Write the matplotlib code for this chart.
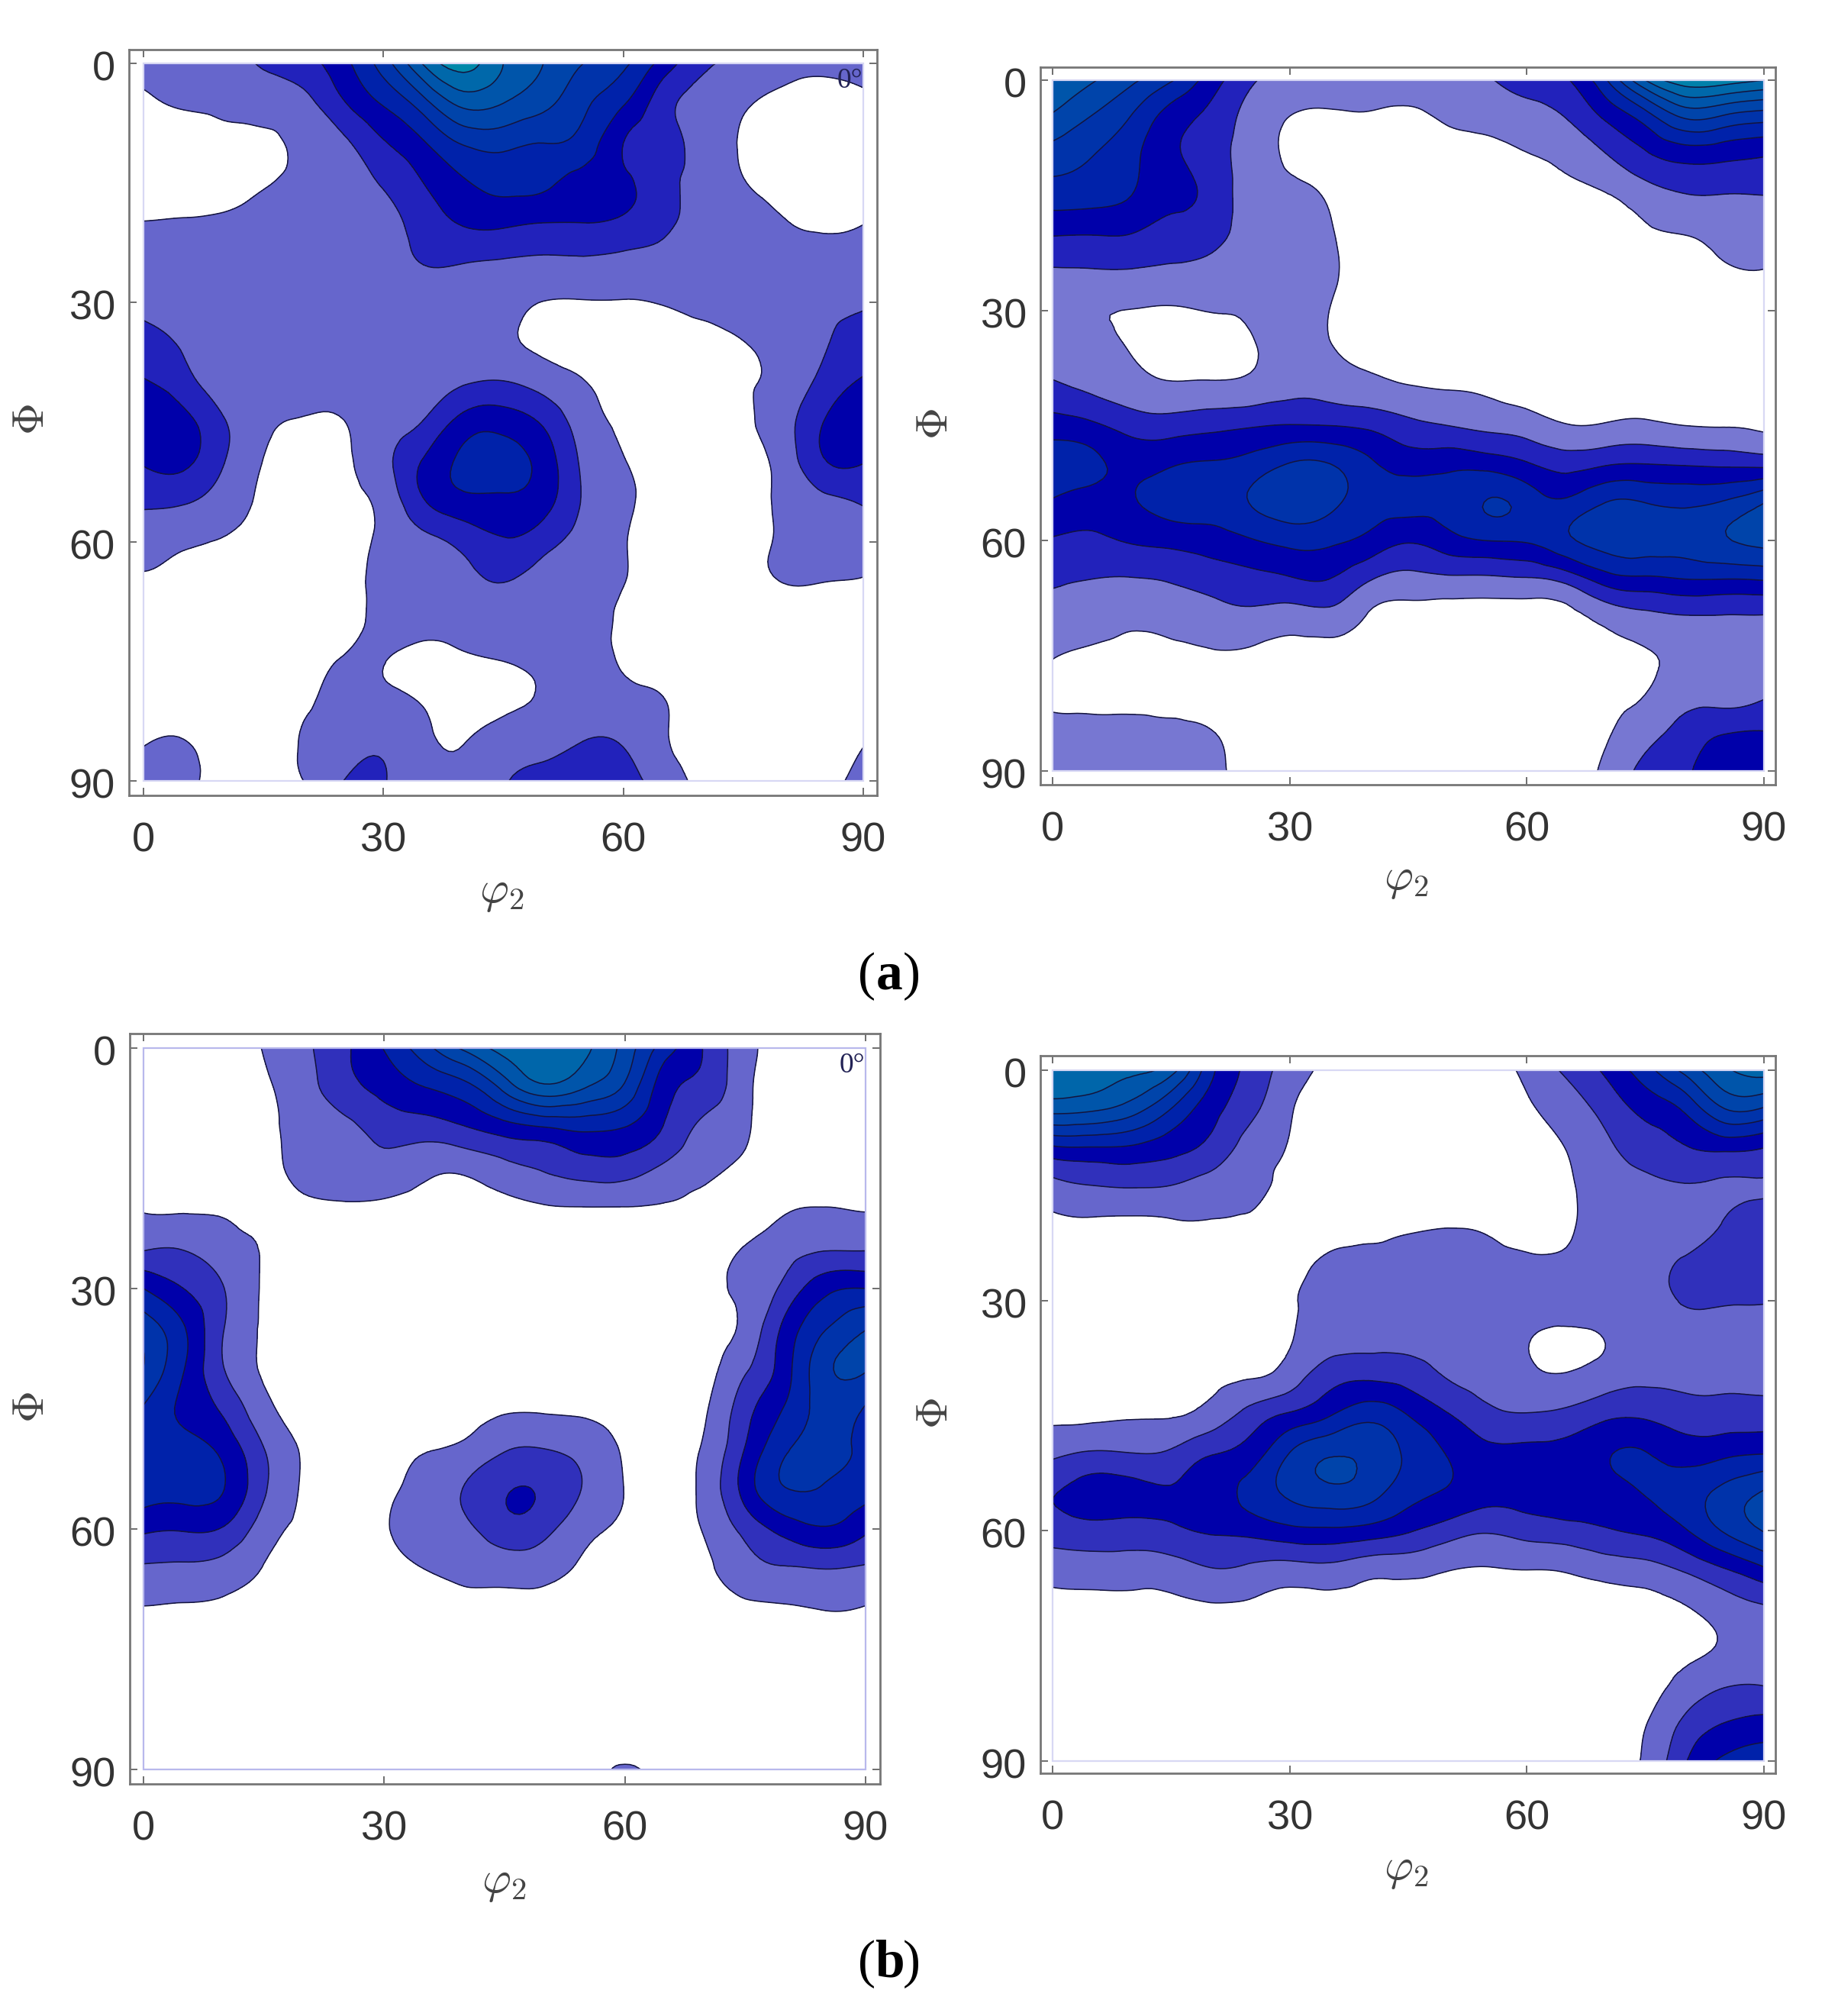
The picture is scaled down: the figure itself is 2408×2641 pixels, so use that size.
import numpy as np
import matplotlib
matplotlib.use("Agg")
import matplotlib.pyplot as plt
import matplotlib.tri as mtri
from matplotlib.patches import Rectangle
from matplotlib.transforms import ScaledTranslation

W, H = 2408, 2641
phi2 = list(range(0, 95, 5))
Phi = list(range(0, 95, 5))
tick_values = [0, 30, 60, 90]
contour_levels = [1, 2, 3, 4, 5, 6, 7, 8, 9, 10]

# intensity, rows = Phi 0..90 step 5, columns = phi2 0..90 step 5
a_left_rows = [
 [1.4,1.5,1.6,2.1,2.6,3.7,5.5,8.1,9.4,8.0,7.0,6.0,5.2,3.6,2.2,1.7,1.3,1.2,1.3],
 [.8,1.1,1.2,1.4,1.7,2.9,4.1,5.6,7.3,7.0,6.3,5.2,4.1,2.4,1.6,1.1,.8,.7,.85],
 [.5,.6,.8,.85,1.2,1.8,2.9,3.9,5.1,5.3,5.0,4.6,3.0,2.3,1.6,.9,.5,.5,.6],
 [.6,.7,.8,.95,1.2,1.5,2.1,3.0,3.9,4.3,4.2,3.6,3.2,2.3,1.7,1.05,.6,.5,.6],
 [1.02,1.05,1.1,1.2,1.3,1.4,1.7,2.4,3.1,3.2,3.0,3.0,2.8,2.2,1.7,1.4,1.05,.9,.98],
 [1.4,1.4,1.4,1.4,1.4,1.5,1.6,2.03,2.02,1.9,1.8,1.8,1.7,1.6,1.4,1.3,1.3,1.3,1.4],
 [1.8,1.6,1.4,1.4,1.4,1.4,1.4,1.4,1.4,1.3,.98,.95,.95,1.05,1.3,1.4,1.6,1.8,1.9],
 [2.3,1.9,1.4,1.2,1.2,1.3,1.3,1.3,1.3,1.15,.8,.55,.5,.5,.6,.98,1.3,1.9,2.4],
 [3.1,2.4,1.4,1.2,1.2,1.3,1.4,1.55,1.9,2.05,1.6,1.05,.6,.5,.55,.9,1.3,2.3,3.15],
 [3.6,3.3,2.1,1.15,.95,.98,1.5,2.05,3.4,3.6,2.85,1.5,.85,.5,.5,.85,1.6,3.0,3.9],
 [3.1,3.2,2.05,.98,.7,.85,1.7,3.1,4.2,4.35,3.6,1.8,1.03,.6,.5,.7,1.4,2.9,3.05],
 [2.2,2.1,1.5,.85,.6,.75,1.3,2.9,3.7,3.8,3.4,1.9,1.15,.65,.5,.6,1.2,1.7,2.1],
 [1.3,1.1,.95,.7,.5,.7,1.15,1.7,2.3,2.9,2.4,1.6,1.05,.6,.5,.7,1.1,1.2,1.3],
 [.9,.8,.7,.5,.4,.7,1.2,1.4,1.7,2.02,1.5,1.2,1.02,.6,.5,.7,1.02,1.01,.95],
 [.4,.5,.5,.5,.5,.7,1.2,1.25,1.3,1.3,1.25,1.15,.9,.5,.5,.5,.5,.5,.5],
 [.5,.5,.5,.6,.75,1.05,1.02,.8,.9,1.0,1.1,1.1,.95,.6,.5,.5,.5,.5,.5],
 [.6,.6,.5,.6,.9,1.2,1.2,.95,.7,.85,1.08,1.3,1.25,1.03,.6,.5,.5,.5,.6],
 [.95,1.02,.7,.7,1.05,1.5,1.8,1.2,.97,1.4,1.6,2.0,1.9,1.1,.7,.5,.5,.6,.95],
 [1.2,1.15,.8,.8,1.0,2.0,2.05,1.4,1.2,1.9,2.4,2.6,2.4,1.5,.8,.6,.6,.8,1.2],
]

# the other three are listed by column: columns = phi2 0..90 step 5, entries = Phi 0..90 step 5
a_right_cols = [
 [8.0,6.8,5.5,4.5,3.1,1.9,1.6,1.5,2.2,3.5,4.4,3.9,2.9,2.15,1.6,1.05,.8,1.3,1.5],
 [7.1,5.9,5.0,4.4,3.05,1.9,1.1,1.3,1.8,3.2,4.2,3.6,2.8,2.0,1.5,.8,.7,1.3,1.5],
 [6.2,4.9,4.25,4.0,3.0,1.9,.98,.95,1.4,2.6,3.7,3.9,3.1,1.95,1.2,.7,.7,1.3,1.5],
 [5.1,3.5,3.2,3.3,2.6,1.8,.9,.6,1.15,2.5,3.9,4.4,3.3,2.1,1.3,.8,.7,1.2,1.3],
 [3.5,2.7,2.5,2.7,2.4,1.6,1.03,.6,1.2,2.7,4.1,4.5,3.5,2.45,1.5,.9,.6,1.05,1.2],
 [2.2,1.6,1.5,1.5,1.5,1.3,1.1,.9,1.3,2.9,4.4,5.03,3.9,2.7,1.7,.85,.6,.6,.7],
 [1.5,.98,.9,1.2,1.4,1.5,1.45,1.3,1.7,3.05,5.05,5.6,4.3,2.9,1.5,.7,.6,.6,.6],
 [1.5,.85,.6,.9,1.1,1.2,1.0,1.05,1.6,3.0,5.02,5.3,4.2,3.0,1.6,.7,.6,.6,.6],
 [1.5,.9,.6,.5,.5,.5,.6,.8,1.3,2.8,4.2,4.5,3.7,2.1,.9,.7,.6,.6,.6],
 [1.5,.8,.5,.4,.4,.4,.5,.6,1.05,2.3,3.6,4.3,3.1,1.7,.6,.5,.5,.5,.5],
 [1.5,1.1,.6,.4,.4,.4,.4,.5,.95,2.0,3.7,4.4,3.6,1.8,.6,.5,.5,.5,.5],
 [1.9,1.3,.7,.5,.4,.4,.4,.5,.85,1.75,3.6,5.04,4.0,1.8,.6,.5,.5,.5,.5],
 [2.4,1.6,.95,.7,.4,.4,.4,.4,.6,1.5,3.1,4.6,4.1,1.9,.6,.5,.5,.5,.5],
 [2.9,2.0,1.2,.8,.5,.4,.4,.4,.5,1.05,2.6,4.2,4.8,2.35,.7,.5,.5,.5,.6],
 [4.9,3.1,1.9,.95,.6,.4,.4,.4,.4,1.1,2.9,5.0,5.4,3.5,1.3,.7,.8,.9,1.2],
 [8.0,4.4,2.8,1.5,.9,.6,.4,.4,.5,1.2,3.0,4.98,5.5,3.8,1.7,.9,1.0,1.6,2.3],
 [9.6,6.0,3.3,1.95,1.02,.7,.5,.4,.5,1.0,2.9,4.8,5.4,4.0,1.9,1.2,1.6,2.4,2.9],
 [9.5,5.7,3.2,1.97,1.25,.9,.5,.5,.5,.95,2.8,5.1,5.9,4.0,1.9,1.2,1.5,2.95,3.4],
 [9.0,5.3,3.0,2.0,1.4,.97,.6,.5,.6,.85,2.7,5.95,6.3,4.1,1.9,1.4,1.85,3.05,3.5],
]

b_left_cols = [
 [.4,.4,.4,.6,.95,1.9,4.0,5.55,5.98,4.9,4.6,4.5,3.2,1.85,.95,.6,.4,.4,.4],
 [.4,.4,.5,.6,.9,1.95,3.0,4.1,4.05,3.8,4.4,4.4,3.1,1.8,.9,.6,.4,.4,.4],
 [.4,.4,.4,.5,.9,1.4,2.02,2.02,2.02,2.8,3.7,4.02,2.9,1.6,.8,.5,.4,.4,.4],
 [1.05,.85,.7,.7,.8,.95,.9,.9,.9,1.3,2.02,2.15,1.5,.95,.6,.5,.4,.4,.4],
 [1.8,1.6,1.4,1.25,.85,.6,.6,.6,.6,.7,.9,.9,.8,.6,.5,.4,.4,.4,.4],
 [2.8,2.6,1.7,1.4,.9,.5,.5,.5,.5,.5,.5,.5,.5,.5,.4,.4,.4,.4,.4],
 [4.05,3.3,2.4,1.6,.85,.5,.4,.4,.4,.5,.6,.8,.9,.7,.5,.4,.4,.4,.4],
 [5.6,3.95,2.5,1.25,.7,.4,.4,.4,.5,.6,.95,1.3,1.4,1.0,.6,.4,.4,.4,.4],
 [7.2,4.6,2.9,1.2,.6,.4,.4,.4,.5,.7,1.2,2.05,1.75,1.2,.7,.4,.4,.4,.4],
 [8.4,6.3,3.5,1.7,.7,.4,.4,.4,.5,.9,1.9,2.9,2.6,1.4,.7,.4,.4,.4,.4],
 [8.8,7.7,3.9,2.1,.9,.4,.4,.4,.5,.9,2.0,2.85,2.3,1.3,.7,.4,.4,.4,.4],
 [8.2,7.0,4.2,2.5,.95,.4,.4,.4,.5,.85,1.6,1.9,1.3,.85,.6,.4,.4,.4,.4],
 [6.6,5.8,3.95,2.5,.95,.4,.4,.4,.5,.7,.9,.98,.85,.6,.5,.4,.4,.4,1.15],
 [4.5,3.4,2.9,1.8,.9,.4,.4,.4,.5,.5,.6,.7,.6,.5,.5,.4,.4,.4,.5],
 [2.9,2.6,1.7,1.2,.7,.6,.8,.7,.7,.9,1.15,1.3,1.1,.8,.6,.4,.4,.4,.4],
 [1.35,1.25,1.1,.8,.5,1.05,1.2,1.25,1.85,2.6,3.05,3.4,2.3,1.6,.8,.5,.4,.4,.4],
 [.6,.5,.4,.5,.9,1.6,2.3,3.3,3.6,4.1,4.85,4.97,3.4,1.9,.9,.5,.4,.4,.4],
 [.4,.4,.4,.5,1.02,1.9,3.7,4.95,5.75,5.35,5.3,4.9,3.9,2.0,1.02,.6,.4,.4,.4],
 [.4,.4,.4,.5,.95,1.9,4.0,5.95,6.1,4.9,4.7,4.4,3.2,1.85,.95,.6,.4,.4,.4],
]

b_right_cols = [
 [8.6,7.4,3.9,1.7,.8,.5,.4,.4,.5,.85,1.8,2.95,2.5,1.4,.7,.5,.4,.4,.4],
 [8.6,7.2,4.0,2.0,.85,.5,.4,.4,.6,.85,2.15,3.4,2.65,1.5,.7,.5,.4,.4,.4],
 [8.2,6.5,3.9,2.1,.8,.5,.4,.4,.7,.95,2.05,3.3,2.6,1.5,.7,.5,.4,.4,.4],
 [7.4,5.0,3.4,2.0,.9,.6,.4,.5,.7,.95,2.2,3.1,2.8,1.55,.8,.5,.4,.4,.4],
 [4.3,3.4,2.7,1.6,.95,.6,.5,.6,.8,1.4,2.95,3.5,3.1,1.95,.9,.5,.4,.4,.4],
 [2.7,2.3,1.6,1.3,.85,.6,.6,.7,.95,2.4,3.5,4.3,3.3,1.8,.85,.5,.4,.4,.4],
 [1.5,1.1,.95,.7,.6,.7,.9,.95,1.5,3.2,5.05,5.2,3.7,1.6,.7,.5,.4,.4,.4],
 [.8,.6,.5,.5,.6,1.15,1.3,1.5,2.6,3.95,5.9,5.7,3.8,1.7,.7,.5,.4,.4,.4],
 [.5,.5,.5,.6,.8,1.2,1.4,1.7,2.85,4.7,5.75,5.4,3.6,1.35,.7,.5,.4,.4,.4],
 [.4,.4,.4,.5,.9,1.2,1.4,1.7,2.6,4.0,4.8,4.4,3.1,1.3,.6,.4,.4,.4,.4],
 [.4,.4,.4,.5,.95,1.25,1.4,1.6,1.95,3.1,3.95,3.9,2.5,1.05,.55,.4,.4,.4,.4],
 [.4,.4,.4,.5,.9,1.15,1.3,1.4,1.6,2.3,3.3,3.4,2.1,.95,.55,.4,.4,.4,.4],
 [1.3,.85,.6,.5,.7,1.1,1.2,1.03,1.2,2.1,3.3,3.45,2.4,1.02,.6,.5,.4,.4,.4],
 [2.15,1.5,1.03,.85,.85,1.15,1.3,.85,1.1,2.3,3.4,3.6,2.6,1.1,.6,.5,.4,.4,.4],
 [3.2,2.35,1.8,1.5,1.5,1.5,1.55,1.03,1.5,2.8,3.9,3.65,2.9,1.4,.65,.5,.5,.5,.6],
 [4.6,3.3,2.5,1.8,1.6,1.6,1.7,1.7,1.85,2.85,4.05,4.05,3.2,1.6,.8,.85,.7,.95,1.15],
 [6.3,4.2,2.95,1.95,1.5,2.1,2.05,1.8,1.8,2.5,3.6,4.5,3.9,2.15,.95,.8,1.3,2.2,2.9],
 [7.8,6.0,3.3,1.9,2.05,2.2,2.05,1.7,1.8,2.45,3.8,5.3,5.1,2.95,1.5,1.1,1.9,3.0,4.2],
 [8.4,5.9,3.05,1.95,2.3,2.5,2.05,1.7,1.7,2.5,4.0,6.1,6.05,3.85,1.9,1.4,1.95,3.3,4.6],
]

fills_a_left = ['#6666cc', '#2222bb', '#0000aa', '#0022aa', '#0033aa', '#0044aa', '#0055aa', '#0068aa', '#0088aa']
fills_a_right = ['#7777d2', '#2222bb', '#0000aa', '#0022aa', '#0033aa', '#0044aa', '#0055aa', '#0068aa', '#0080aa']
fills_b = ['#6666cc', '#3030bb', '#0000aa', '#0022aa', '#0033aa', '#0044aa', '#0055aa', '#0066aa', '#0080aa']

plt.rcParams['font.family'] = ['Liberation Sans', 'DejaVu Sans']
fig = plt.figure(figsize=(W / 100, H / 100), dpi=100, facecolor='white')


def panel(grid, fills, frame, plot, label_y, xlab, ylab, mark=False, edge='#d8d8f4'):
    fx0, fx1, fy0, fy1 = frame
    x0, x1, y0, y1 = plot
    ax = fig.add_axes([fx0 / W, 1 - fy1 / H, (fx1 - fx0) / W, (fy1 - fy0) / H])
    sx = 90 / (x1 - x0)
    sy = 90 / (y1 - y0)
    ax.set_xlim((fx0 - x0) * sx, 90 + (fx1 - x1) * sx)
    ax.set_ylim(90 + (fy1 - y1) * sy, (fy0 - y0) * sy)
    # matplotlib's own refiner draws the read grid with smooth contours
    px, py = np.meshgrid(phi2, Phi)
    tri = mtri.Triangulation(px.ravel().astype(float), py.ravel().astype(float))
    fine, zfine = mtri.UniformTriRefiner(tri).refine_field(grid.ravel(), subdiv=3)
    ax.tricontourf(fine, zfine, levels=contour_levels, colors=fills)
    ax.tricontour(fine, zfine, levels=contour_levels, colors='#14143c', linewidths=1.1)
    ax.add_patch(Rectangle((0, 0), 90, 90, fill=False, ec=edge, lw=1.6, zorder=3))
    ax.set_xticks(tick_values)
    ax.set_yticks(tick_values)
    ax.tick_params(direction='in', length=7, width=1.2, color='#555555', top=True, right=True,
                   labelsize=39, labelcolor='#333333')
    ax.tick_params(axis='x', pad=label_y)
    ax.tick_params(axis='y', pad=13)
    shift = ScaledTranslation(0, -3 / 100, fig.dpi_scale_trans)
    for lab in ax.get_yticklabels():
        lab.set_transform(lab.get_transform() + shift)
    for s in ax.spines.values():
        s.set_color('#777777')
        s.set_linewidth(2)
    fig.text(xlab[0] / W, 1 - xlab[1] / H, r'$\varphi_2$', fontsize=42, color='#444444',
             ha='center', va='center', math_fontfamily='cm')
    fig.text(ylab[0] / W, 1 - ylab[1] / H, r'$\Phi$', fontsize=42, color='#444444', rotation=90,
             ha='center', va='center', math_fontfamily='cm')
    if mark:
        ax.text(88.3, 2.2, '0°', fontsize=27, family='Liberation Serif', color='#222255',
                ha='center', va='center')
    return ax


panel(np.array(a_left_rows), fills_a_left, (169, 1149, 65, 1042), (188, 1131, 83, 1023), 25,
      (657, 1170), (42, 550), mark=True)
panel(np.array(a_right_cols).T, fills_a_right, (1363, 2326, 88, 1028), (1379, 2311, 105, 1010), 25,
      (1842, 1153), (1226, 556))
panel(np.array(b_left_cols).T, fills_b, (170, 1153, 1354, 2337), (188, 1134, 1373, 2318), 25,
      (660, 2467), (42, 1844), mark=True, edge='#b8b8ec')
panel(np.array(b_right_cols).T, fills_b, (1363, 2326, 1383, 2323), (1379, 2311, 1402, 2307), 25,
      (1842, 2450), (1226, 1852))

for txt, y in (('a', 1279), ('b', 2573)):
    fig.text(1124 / W, 1 - y / H, '(', fontsize=50, family='Liberation Serif', color='black',
             ha='left', va='center')
    fig.text(1165 / W, 1 - y / H, txt, fontsize=50, family='Liberation Serif', fontweight='bold',
             color='black', ha='center', va='center')
    fig.text(1206 / W, 1 - y / H, ')', fontsize=50, family='Liberation Serif', color='black',
             ha='right', va='center')

fig.savefig('out.png', dpi=100)
